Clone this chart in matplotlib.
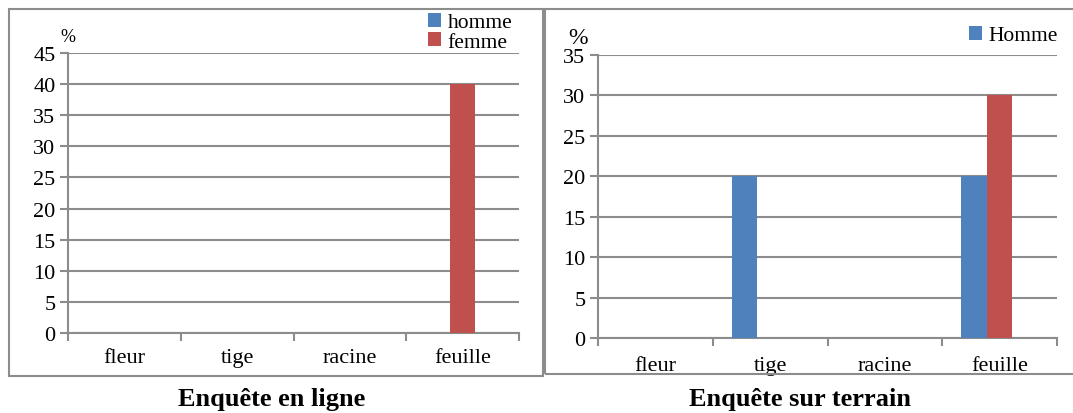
import matplotlib.pyplot as plt
import numpy as np
from matplotlib.patches import Rectangle

# categories and survey values (%)
categories = ["fleur", "tige", "racine", "feuille"]
ligne_homme = [0, 0, 0, 0]
ligne_femme = [0, 0, 0, 40]
terrain_homme = [0, 20, 0, 20]
terrain_femme = [0, 0, 0, 30]

blue = "#4F81BD"
red = "#C0504D"
grey = "#8C8C8C"

plt.rcParams['font.family'] = ['Liberation Serif', 'DejaVu Serif']

W, H = 1073, 414
fig = plt.figure(figsize=(W / 100, H / 100), dpi=100)


def px_axes(x0, y0, x1, y1):
    # axes from pixel box (top-left origin)
    return fig.add_axes([x0 / W, (H - y1) / H, (x1 - x0) / W, (y1 - y0) / H])


def style(ax, ymax, pad):
    x = np.arange(len(categories))
    ax.set_xlim(-0.5, len(categories) - 0.5)
    ax.set_ylim(0, ymax)
    ax.set_yticks(np.arange(0, ymax + 1, 5))
    ax.set_xticks(x)
    ax.set_xticklabels(categories, fontsize=16)
    ax.set_xticks(np.arange(-0.5, len(categories)), minor=True)
    ax.tick_params(axis='x', which='major', length=0, pad=pad)
    ax.tick_params(axis='x', which='minor', length=6, width=1.5, color=grey)
    ax.tick_params(axis='y', length=6, width=1.5, color=grey, labelsize=16, pad=3)
    ax.yaxis.grid(True, color=grey, lw=1.5)
    ax.set_axisbelow(True)
    for s in ["top", "right"]:
        ax.spines[s].set_visible(False)
    for s in ["left", "bottom"]:
        ax.spines[s].set_color(grey)
        ax.spines[s].set_linewidth(1.5)


def bars(ax, homme, femme):
    x = np.arange(len(categories))
    w = 1 / 4.5
    b1 = ax.bar(x - w, homme, w, color=blue, zorder=3)
    b2 = ax.bar(x, femme, w, color=red, zorder=3)
    return b1, b2


# panel frames
fig.patches.append(Rectangle((9 / W, (H - 377) / H), (543 - 9) / W, (377 - 10) / H,
                             transform=fig.transFigure, fill=False, ec=grey, lw=1.5))
fig.patches.append(Rectangle((545 / W, (H - 375) / H), (1080 - 545) / W, (375 - 10) / H,
                             transform=fig.transFigure, fill=False, ec=grey, lw=1.5))

# Enquête en ligne
ax1 = px_axes(68, 54, 519, 334)
style(ax1, 45, 11)
h1, f1 = bars(ax1, ligne_homme, ligne_femme)
fig.legend([h1, f1], ["homme", "femme"], loc="upper left",
           bbox_to_anchor=(428 / W, 1 - 14 / H), frameon=False, fontsize=15.5,
           handlelength=0.6, handleheight=0.6, handletextpad=0.3,
           labelspacing=0.0, borderaxespad=0, borderpad=0)
fig.text(68 / W, 1 - 37 / H, "%", fontsize=13, ha="center", va="center")
fig.text(272 / W, 1 - 400 / H, "Enquête en ligne", fontsize=19, weight="bold",
         ha="center", va="center")

# Enquête sur terrain
ax2 = px_axes(598, 56, 1057, 339)
style(ax2, 35, 13)
h2, f2 = bars(ax2, terrain_homme, terrain_femme)
fig.legend([h2], ["Homme"], loc="upper left",
           bbox_to_anchor=(969 / W, 1 - 27 / H), frameon=False, fontsize=15.5,
           handlelength=0.6, handleheight=0.6, handletextpad=0.3,
           borderaxespad=0, borderpad=0)
fig.text(578 / W, 1 - 38 / H, "%", fontsize=17, ha="center", va="center")
fig.text(800 / W, 1 - 400 / H, "Enquête sur terrain", fontsize=19, weight="bold",
         ha="center", va="center")

fig.savefig("out.png", dpi=100)
